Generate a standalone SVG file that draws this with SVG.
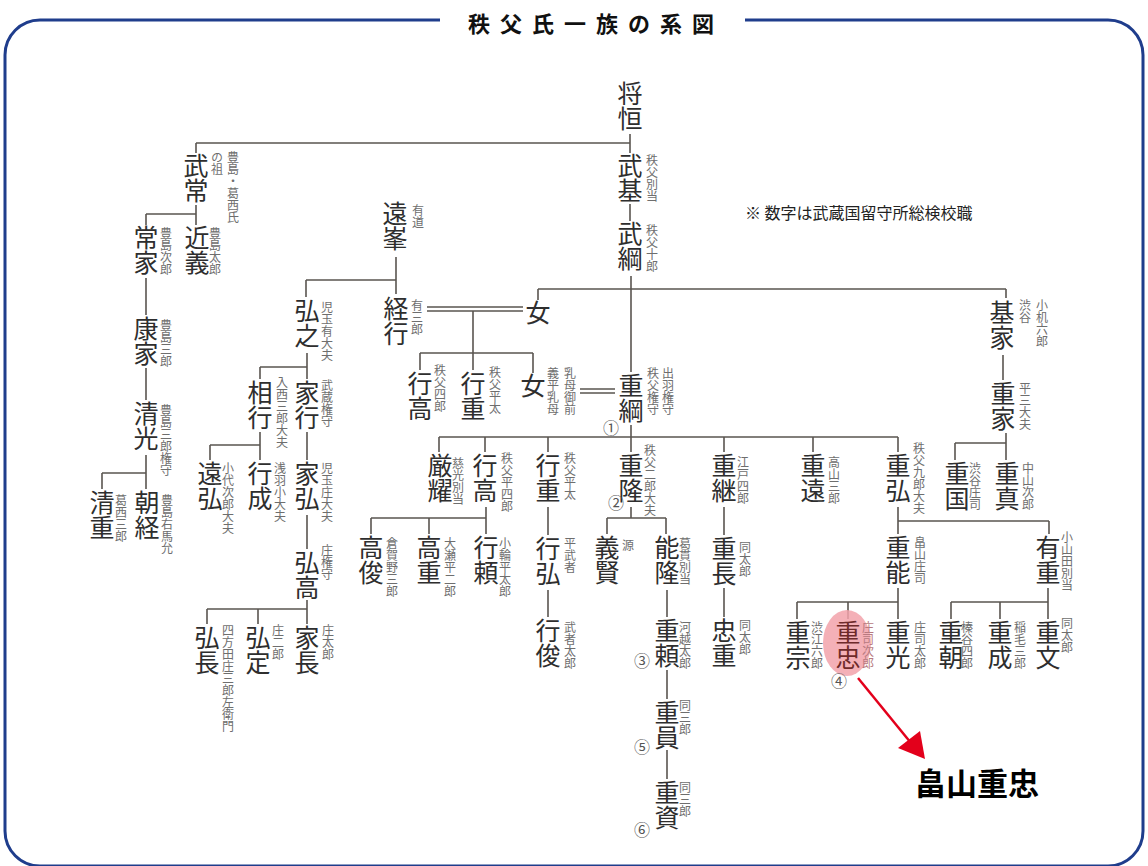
<svg xmlns="http://www.w3.org/2000/svg" width="1148" height="866" viewBox="0 0 1148 866">
<defs>
<style>
.n{font-family:"Noto Sans CJK JP","Noto Sans CJK SC",sans-serif;font-size:25px;fill:#2e2e2e;writing-mode:vertical-rl}
.a{font-family:"Noto Sans CJK JP","Noto Sans CJK SC",sans-serif;font-size:12px;fill:#6e6e6e;writing-mode:vertical-rl}
.m{font-family:"Noto Sans CJK JP","Noto Sans CJK SC",sans-serif;font-size:16px;fill:#555;text-anchor:middle}
.c{stroke:#5a5550;stroke-width:1.6;fill:none}
</style>
</defs>
<rect width="1148" height="866" fill="#fff"/>
<path d="M440 20 H40 A35 35 0 0 0 5 55 V831 A35 35 0 0 0 40 866 H1108 A35 35 0 0 0 1143 831 V55 A35 35 0 0 0 1108 20 H745" fill="none" stroke="#1f3d8c" stroke-width="3"/>
<text x="468" y="32" font-family="'Noto Sans CJK JP',sans-serif" font-size="22" font-weight="bold" letter-spacing="10" fill="#111">秩父氏一族の系図</text>
<text x="745" y="219" font-family="'Noto Sans CJK JP',sans-serif" font-size="16" fill="#222">※ 数字は武蔵国留守所総検校職</text>

<g id="connectors" class="c">
<path d="M630 134V153M196 143H630M196 143V153M630 204V221"/>
<path d="M196 205V225M146 214H196M146 214V225"/>
<path d="M146 278V315M146 368V400M146 455V489M102 473H146M102 473V489"/>
<path d="M396 257V294M306 280H396M306 280V297"/>
<path d="M631 276V372M538 289H1006M538 289V300M1006 289V298"/>
<path d="M427 307H523M427 311H523"/>
<path d="M473 311V370M420 353H533M420 353V370M533 353V373"/>
<path d="M580 389H615M580 393H615"/>
<path d="M1003 355V380M1006 433V460M955 443H1006M955 443V460"/>
<path d="M307 353V379M260 367H307M260 367V379"/>
<path d="M260 432V460M210 445H260M210 445V460M307 432V460M307 515V549"/>
<path d="M307 600V624M207 609H307M207 609V624M258 609V624"/>
<path d="M631 425V452M439 437H898M439 437V452M485 437V452M548 437V452M724 437V452M813 437V452M898 437V452"/>
<path d="M486 507V534M371 518H486M371 518V534M429 518V534"/>
<path d="M548 507V535M548 590V617"/>
<path d="M631 507V518M607 518H666M607 518V534M666 518V534"/>
<path d="M667 590V617M667 670V699M667 750V779"/>
<path d="M724 507V535M724 588V617"/>
<path d="M898 507V534M898 521H1049M1049 521V534"/>
<path d="M898 588V619M797 602H898M797 602V619M848 602V619"/>
<path d="M1048 588V619M951 602H1048M951 602V619M1000 602V619"/>
</g>

<g id="n-masatsune"><text class="n" x="630" y="81">将恒</text></g>
<g id="n-takemoto"><text class="n" x="630" y="153">武基</text><text class="a" x="652" y="154">秩父別当</text></g>
<g id="n-taketsuna"><text class="n" x="630" y="221">武綱</text><text class="a" x="652" y="224">秩父十郎</text></g>
<g id="n-taketsune"><text class="n" x="196" y="153">武常</text><text class="a" x="233" y="151">豊島・葛西氏</text><text class="a" x="217" y="151">の祖</text></g>
<g id="n-chikayoshi"><text class="n" x="197" y="225">近義</text><text class="a" x="215" y="227">豊島太郎</text></g>
<g id="n-tsuneie"><text class="n" x="146" y="225">常家</text><text class="a" x="166" y="227">豊島次郎</text></g>
<g id="n-yasuie"><text class="n" x="146" y="316">康家</text><text class="a" x="166" y="319">豊島三郎</text></g>
<g id="n-kiyomitsu"><text class="n" x="146" y="401">清光</text><text class="a" x="166" y="404">豊島三郎権守</text></g>
<g id="n-kiyoshige"><text class="n" x="102" y="490">清重</text><text class="a" x="121" y="494">葛西三郎</text></g>
<g id="n-tomotsune"><text class="n" x="147" y="490">朝経</text><text class="a" x="167" y="494">豊島右馬允</text></g>
<g id="n-tomine"><text class="n" x="395" y="201">遠峯</text><text class="a" x="418" y="204">有道</text></g>
<g id="n-hiroyuki"><text class="n" x="307" y="298">弘之</text><text class="a" x="327" y="301">児玉有大夫</text></g>
<g id="n-tsuneyuki"><text class="n" x="396" y="296">経行</text><text class="a" x="417" y="299">有三郎</text></g>
<g id="n-onna1"><text class="n" x="538" y="300">女</text></g>
<g id="n-motoie"><text class="n" x="1002" y="300">基家</text><text class="a" x="1025" y="299">渋谷</text><text class="a" x="1042" y="299">小机六郎</text></g>
<g id="n-shigeie"><text class="n" x="1003" y="381">重家</text><text class="a" x="1025" y="382">平三大夫</text></g>
<g id="n-yukitaka1"><text class="n" x="420" y="371">行高</text><text class="a" x="440" y="364">秩父四郎</text></g>
<g id="n-yukishige1"><text class="n" x="473" y="371">行重</text><text class="a" x="495" y="366">秩父平太</text></g>
<g id="n-onna2"><text class="n" x="533" y="373">女</text><text class="a" x="570" y="367">乳母御前</text><text class="a" x="553" y="367">義平乳母</text></g>
<g id="n-shigetsuna"><text class="n" x="631" y="373">重綱</text><text class="a" x="668" y="367">出羽権守</text><text class="a" x="653" y="367">秩父権守</text><text class="m" x="611" y="434">①</text></g>
<g id="n-aiyuki"><text class="n" x="260" y="380">相行</text><text class="a" x="282" y="376">入西三郎大夫</text></g>
<g id="n-ieyuki"><text class="n" x="307" y="380">家行</text><text class="a" x="327" y="379">武蔵権守</text></g>
<g id="n-tohiro"><text class="n" x="210" y="461">遠弘</text><text class="a" x="228" y="462">小代次郎大夫</text></g>
<g id="n-yukinari"><text class="n" x="260" y="461">行成</text><text class="a" x="280" y="462">浅羽小大夫</text></g>
<g id="n-iehiro"><text class="n" x="307" y="461">家弘</text><text class="a" x="327" y="462">児玉庄大夫</text></g>
<g id="n-hirotaka"><text class="n" x="307" y="550">弘高</text><text class="a" x="327" y="544">庄権守</text></g>
<g id="n-hironaga"><text class="n" x="207" y="625">弘長</text><text class="a" x="228" y="624">四方田庄三郎左衛門</text></g>
<g id="n-hirosada"><text class="n" x="258" y="625">弘定</text><text class="a" x="278" y="624">庄二郎</text></g>
<g id="n-ienaga"><text class="n" x="307" y="625">家長</text><text class="a" x="328" y="624">庄太郎</text></g>
<g id="n-genyo"><text class="n" x="440" y="453">厳耀</text><text class="a" x="458" y="457">慈光別当</text></g>
<g id="n-yukitaka2"><text class="n" x="485" y="453">行高</text><text class="a" x="507" y="452">秩父平四郎</text></g>
<g id="n-yukishige2"><text class="n" x="548" y="453">行重</text><text class="a" x="570" y="452">秩父平太</text></g>
<g id="n-shigetaka"><text class="n" x="631" y="453">重隆</text><text class="a" x="650" y="444">秩父二郎大夫</text><text class="m" x="616" y="509">②</text></g>
<g id="n-shigetsugu"><text class="n" x="724" y="453">重継</text><text class="a" x="743" y="456">江戸四郎</text></g>
<g id="n-shigeto"><text class="n" x="813" y="453">重遠</text><text class="a" x="834" y="456">高山三郎</text></g>
<g id="n-shigehiro"><text class="n" x="898" y="453">重弘</text><text class="a" x="919" y="442">秩父九郎大夫</text></g>
<g id="n-shigekuni"><text class="n" x="957" y="461">重国</text><text class="a" x="975" y="462">渋谷庄司</text></g>
<g id="n-shigezane"><text class="n" x="1007" y="461">重真</text><text class="a" x="1028" y="462">中山次郎</text></g>
<g id="n-takatoshi"><text class="n" x="371" y="535">高俊</text><text class="a" x="392" y="537">倉賀野三郎</text></g>
<g id="n-takashige"><text class="n" x="429" y="535">高重</text><text class="a" x="450" y="537">大瀬平二郎</text></g>
<g id="n-yukiyori"><text class="n" x="486" y="535">行頼</text><text class="a" x="505" y="537">小輪平太郎</text></g>
<g id="n-yukihiro"><text class="n" x="548" y="536">行弘</text><text class="a" x="570" y="537">平武者</text></g>
<g id="n-yoshikata"><text class="n" x="607" y="535">義賢</text><text class="a" x="628" y="539">源</text></g>
<g id="n-yoshitaka"><text class="n" x="667" y="535">能隆</text><text class="a" x="685" y="537">葛貫別当</text></g>
<g id="n-shigenaga"><text class="n" x="724" y="536">重長</text><text class="a" x="745" y="541">同太郎</text></g>
<g id="n-shigeyoshi"><text class="n" x="898" y="535">重能</text><text class="a" x="920" y="536">畠山庄司</text></g>
<g id="n-arishige"><text class="n" x="1048" y="535">有重</text><text class="a" x="1067" y="531">小山田別当</text></g>
<g id="n-yukitoshi"><text class="n" x="548" y="618">行俊</text><text class="a" x="570" y="621">武者太郎</text></g>
<g id="n-shigeyori"><text class="n" x="667" y="618">重頼</text><text class="a" x="685" y="621">河越太郎</text><text class="m" x="642" y="667">③</text></g>
<g id="n-tadashige"><text class="n" x="724" y="618">忠重</text><text class="a" x="745" y="619">同太郎</text></g>
<g id="n-shigemune"><text class="n" x="798" y="620">重宗</text><text class="a" x="817" y="621">渋江六郎</text></g>
<g id="n-shigetada"><ellipse cx="847" cy="643" rx="24" ry="33" fill="#f2a2aa" opacity="0.85"/><text class="n" x="848" y="620" style="fill:#6e2a2a">重忠</text><text class="a" x="868" y="621" style="fill:#b77a80">庄司次郎</text><text class="m" x="839" y="687">④</text></g>
<g id="n-shigemitsu"><text class="n" x="898" y="620">重光</text><text class="a" x="920" y="621">庄司太郎</text></g>
<g id="n-shigetomo"><text class="n" x="951" y="620">重朝</text><text class="a" x="967" y="621">榛谷四郎</text></g>
<g id="n-shigenari"><text class="n" x="1000" y="620">重成</text><text class="a" x="1020" y="621">稲毛三郎</text></g>
<g id="n-shigefumi"><text class="n" x="1048" y="620">重文</text><text class="a" x="1067" y="617">同太郎</text></g>
<g id="n-shigekazu"><text class="n" x="667" y="700">重員</text><text class="a" x="685" y="699">同三郎</text><text class="m" x="642" y="753">⑤</text></g>
<g id="n-shigesuke"><text class="n" x="667" y="780">重資</text><text class="a" x="685" y="781">同三郎</text><text class="m" x="642" y="836">⑥</text></g>

<g id="callout">
<line x1="858" y1="678" x2="911" y2="743" stroke="#e3001b" stroke-width="2.5"/>
<polygon points="925,759 898,748 920,731" fill="#e3001b"/>
<text x="915" y="795" font-family="'Noto Sans CJK JP',sans-serif" font-size="31" font-weight="bold" fill="#000">畠山重忠</text>
</g>
</svg>
